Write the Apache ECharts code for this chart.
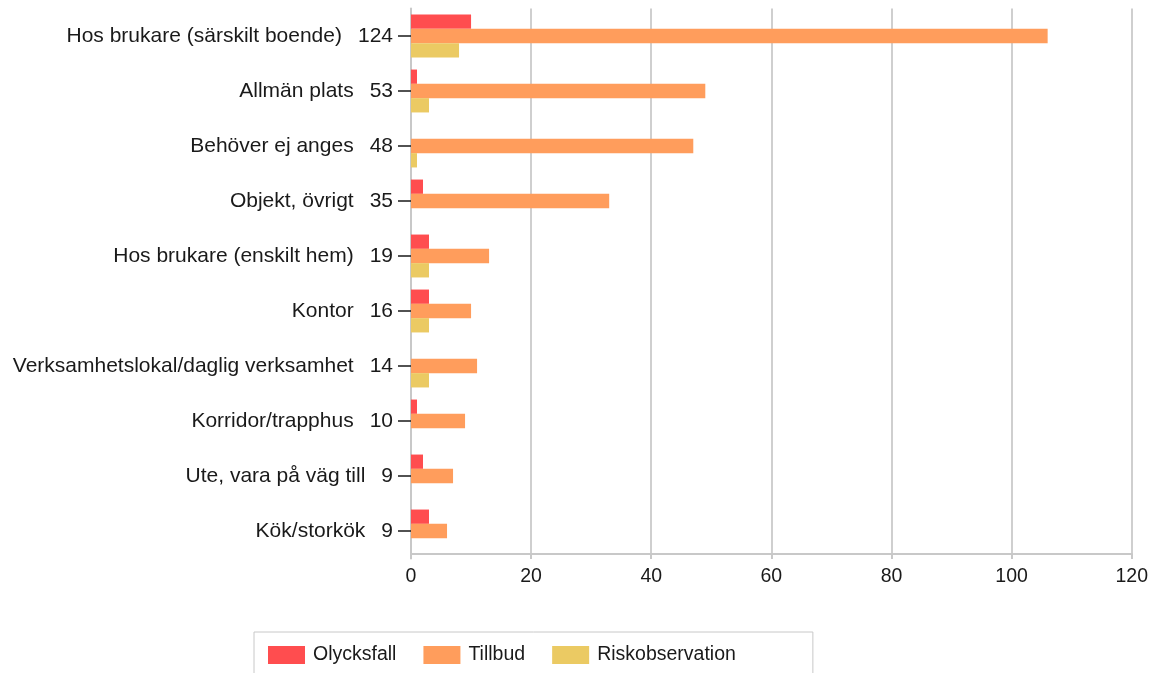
<!DOCTYPE html>
<html>
<head>
<meta charset="utf-8">
<script src="https://cdn.jsdelivr.net/npm/echarts@6/dist/echarts.min.js"></script>
<style>
  html, body { margin: 0; padding: 0; background: #fff; }
  #chart { width: 1151px; height: 673px; }
</style>
</head>
<body>
<div id="chart"></div>
<script>
const categories = [
  'Hos brukare (särskilt boende)',
  'Allmän plats',
  'Behöver ej anges',
  'Objekt, övrigt',
  'Hos brukare (enskilt hem)',
  'Kontor',
  'Verksamhetslokal/daglig verksamhet',
  'Korridor/trapphus',
  'Ute, vara på väg till',
  'Kök/storkök',
];
const totals = [124, 53, 48, 35, 19, 16, 14, 10, 9, 9];
const olycksfall = [10, 1, 0, 2, 3, 3, 0, 1, 2, 3];
const tillbud = [106, 49, 47, 33, 13, 10, 11, 9, 7, 6];
const riskobservation = [8, 3, 1, 0, 3, 3, 3, 0, 0, 0];
const xTicks = { min: 0, max: 120, interval: 20 };

const FONT = 'Liberation Sans, Arial, sans-serif';
const TEXT = '#1a1a1a';
const chart = echarts.init(document.getElementById('chart'));

const makeSeries = (name, data, color) => ({
  name,
  type: 'bar',
  data,
  barWidth: 14.3,
  barGap: '0%',
  itemStyle: { color },
  animation: false,
});

chart.setOption({
  textStyle: { fontFamily: FONT },
  grid: { left: 411, right: 19, top: 8.5, height: 550, containLabel: false },
  xAxis: {
    type: 'value',
    min: xTicks.min,
    max: xTicks.max,
    interval: xTicks.interval,
    offset: -4.5,
    axisLine: { show: true, lineStyle: { color: '#c8c8c8', width: 2 } },
    axisTick: { show: true, length: 5, lineStyle: { color: '#c8c8c8', width: 2 } },
    axisLabel: { margin: 13, fontSize: 19.5, color: TEXT, fontFamily: FONT },
    splitLine: { show: true, lineStyle: { color: '#cfcfcf', width: 2 } },
  },
  yAxis: {
    type: 'category',
    inverse: true,
    data: categories,
    axisLine: { show: true, lineStyle: { color: '#c8c8c8', width: 2 } },
    axisTick: { show: true, alignWithLabel: true, length: 13, lineStyle: { color: TEXT, width: 1.5 } },
    axisLabel: {
      margin: 18,
      color: TEXT,
      fontFamily: FONT,
      formatter: (value, idx) => `{n|${value}}{v|${totals[idx]}}`,
      rich: {
        n: { fontSize: 21, color: TEXT, fontFamily: FONT },
        v: { fontSize: 21, color: TEXT, fontFamily: FONT, padding: [0, 0, 0, 16] },
      },
    },
  },
  legend: {
    left: 254,
    top: 632,
    orient: 'horizontal',
    padding: [13, 77, 13, 14],
    borderColor: '#c8c8c8',
    borderWidth: 1,
    itemWidth: 37,
    itemHeight: 18,
    itemGap: 27,
    textStyle: { fontSize: 19.5, color: TEXT, fontFamily: FONT, padding: [0, 0, 0, 3] },
    icon: 'rect',
    data: ['Olycksfall', 'Tillbud', 'Riskobservation'],
  },
  series: [
    makeSeries('Olycksfall', olycksfall, '#ff4d4f'),
    makeSeries('Tillbud', tillbud, '#ff9d5c'),
    makeSeries('Riskobservation', riskobservation, '#ebca63'),
  ],
});
</script>
</body>
</html>
